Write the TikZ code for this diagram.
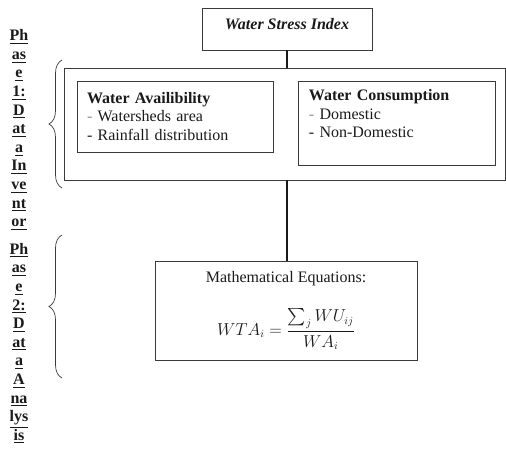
\documentclass[tikz,border=0pt]{standalone}
\usepackage{amsmath}
\usepackage{fontspec}
\setmainfont{Liberation Serif}
\usetikzlibrary{positioning,decorations.pathreplacing}
\definecolor{ink}{HTML}{1A1A1A}
\definecolor{boxline}{HTML}{3A3A3A}
\definecolor{dashgrey}{HTML}{8C8C8C}

\begin{document}
\begin{tikzpicture}[
  x=1pt,y=-1pt,
  font=\fontsize{16}{18.6}\selectfont,text=ink,
  box/.style={draw=boxline,line width=0.9pt,inner sep=0pt},
  titlebox/.style={box,minimum width=170pt,text height=21.5pt,text depth=20.5pt,font=\fontsize{16}{18.6}\selectfont\bfseries\itshape},
  itembox/.style={box,inner xsep=10pt,inner ysep=8.6pt,align=left},
  eqbox/.style={box,align=center,minimum width=262pt,minimum height=99pt},
  phase/.style={align=center,inner sep=0pt,font=\fontsize{16}{18.6}\selectfont\bfseries},
  phbrace/.style={draw=boxline,line width=0.7pt,decorate,decoration={brace,amplitude=13pt}},
  edge/.style={draw=ink,line width=1.6pt}
]
\useasboundingbox (0,0) rectangle (506,448);

\node[titlebox] (wsi) at (287,29) {Water Stress Index};
\node[box,minimum width=441pt,minimum height=112pt] (inv) at (284.5,124) {};
\node[itembox,text width=176pt,minimum width=196pt,minimum height=71pt] (avail) at (175,116.5)
  {\textbf{Water Availibility}\\{\color{dashgrey}-} Watersheds area\\- Rainfall distribution};
\node[itembox,text width=177pt,text depth=55.9pt,below right=0pt and 25pt of avail.north east] (cons)
  {\textbf{Water Consumption}\\{\color{dashgrey}-} Domestic\\- Non-Domestic};
\node[eqbox] (eq) at (286,310.5)
  {Mathematical Equations:\\[22pt]$WTA_i=\dfrac{\sum_j WU_{ij}}{WA_i}$};

\draw[edge] (wsi.south) -- (wsi.south |- inv.north);
\draw[edge] (wsi.south |- inv.south) -- (wsi.south |- eq.north);

% phase braces
\draw[phbrace] (62,188) -- (62,60);
\draw[phbrace] (62,378) -- (62,235);

\node[phase] (ph1) at (19,130) {\underline{Ph}\\\underline{as}\\\underline{e}\\\underline{1:}\\\underline{D}\\\underline{at}\\\underline{a}\\\underline{In}\\\underline{ve}\\\underline{nt}\\\underline{or}};
\node[phase] (ph2) at (19,343.5) {\underline{Ph}\\\underline{as}\\\underline{e}\\\underline{2:}\\\underline{D}\\\underline{at}\\\underline{a}\\\underline{A}\\\underline{na}\\\underline{lys}\\\underline{is}};
\end{tikzpicture}
\end{document}
